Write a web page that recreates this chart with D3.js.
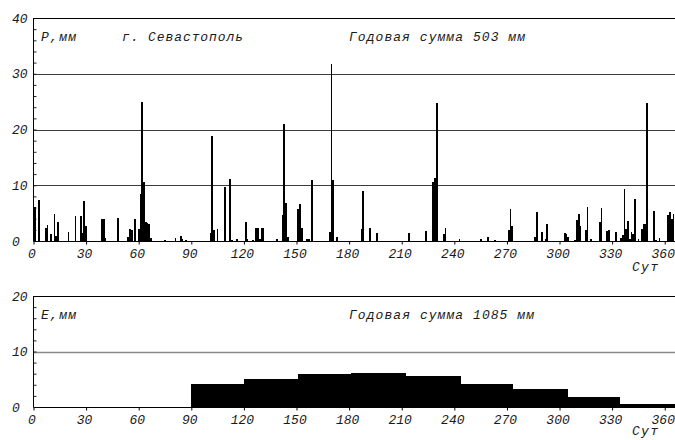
<!DOCTYPE html>
<html>
<head>
<meta charset="utf-8">
<script src="https://d3js.org/d3.v7.min.js"></script>
<style>
  body { margin: 0; background: #fff; }
  text { font-family: "Liberation Mono", "DejaVu Sans Mono", monospace; font-style: italic; fill: #1a1a1a; }
</style>
</head>
<body>
<div id="chart"></div>
<script>
// daily precipitation, day of year -> mm
var rainDays = [1, 3, 7, 8, 10, 12, 13, 14, 20, 24, 27, 28, 29, 30,
  39, 40, 41, 48, 54, 55, 56, 58, 60, 61, 62, 63, 64, 65, 66, 67,
  75, 81, 84, 85, 87,
  101, 102, 103, 105, 109, 112, 113, 116, 121, 122, 125, 127, 128, 129, 130, 131,
  139, 142, 143, 144, 145, 151, 152, 153, 156, 157, 159, 169, 170, 171, 173,
  187, 188, 192, 196, 214, 224, 228, 229, 230, 234, 235,
  243, 255, 259, 263, 271, 272, 273, 286, 287, 290, 292, 293,
  303, 304, 305, 309, 310, 311, 312, 315, 316, 318, 323, 324, 327, 328, 332,
  335, 336, 337, 338, 339, 340, 341, 342, 343, 345, 347, 348, 349, 350,
  354, 355, 357, 362, 363, 364, 365];
var rainMm = [6.1, 7.4, 2.4, 2.9, 1.2, 4.9, 0.9, 3.4, 1.7, 4.4, 4.4, 1.4, 7.2, 2.7,
  4.0, 4.0, 0.6, 4.2, 0.7, 2.2, 1.9, 4.0, 2.1, 8.4, 24.9, 10.5, 3.4, 3.3, 3.1, 0.5,
  0.2, 0.5, 0.9, 0.3, 0.2,
  1.5, 18.9, 2.0, 2.2, 9.7, 11.2, 0.2, 0.4, 3.4, 0.3, 0.2, 2.4, 2.4, 0.4, 2.3, 2.3,
  0.4, 4.7, 21.0, 6.8, 0.7, 5.7, 6.7, 2.4, 0.4, 0.3, 10.9, 1.7, 31.7, 11.0, 0.7,
  2.2, 8.9, 2.4, 1.5, 1.5, 1.8, 10.5, 11.3, 24.7, 1.3, 2.4,
  0.3, 0.3, 0.7, 0.2, 1.9, 5.7, 2.7, 0.7, 5.2, 1.7, 0.4, 3.1,
  1.4, 1.2, 0.7, 0.2, 3.8, 4.8, 2.7, 2.0, 6.1, 0.4, 3.4, 5.9, 1.8, 1.9, 1.7,
  0.5, 1.1, 9.3, 2.2, 3.6, 0.4, 1.7, 1.2, 7.5, 0.4, 2.2, 3.1, 3.1, 24.7,
  5.4, 0.1, 0.5, 4.6, 5.2, 4.0, 4.9];

// monthly evaporation, mm per day
var monthStart = [0, 31, 59, 90, 120, 151, 181, 212, 243, 273, 304, 334];
var monthEnd = [31, 59, 90, 120, 151, 181, 212, 243, 273, 304, 334, 365];
var evapMm = [0, 0, 0, 4.1, 5.0, 5.9, 6.1, 5.6, 4.1, 3.3, 1.8, 0.5];

var dayTicks = [0, 30, 60, 90, 120, 150, 180, 210, 240, 270, 300, 330, 360];
var rainTicks = [0, 10, 20, 30, 40];
var evapTicks = [0, 10, 20];

var W = 675, H = 440;
var svg = d3.select("#chart").append("svg")
  .attr("width", W)
  .attr("height", H);

var x = d3.scaleLinear().domain([0, 365]).range([33.5, 673.5]);
var yTop = d3.scaleLinear().domain([0, 40]).range([241, 18]);
var yBot = d3.scaleLinear().domain([0, 20]).range([407, 296]);

function panel(y, ticks, gridColor, gridWidth) {
  var g = svg.append("g");
  var top = y.range()[1], base = y.range()[0];
  var dmax = y.domain()[1];

  // grid lines
  g.selectAll("line.grid")
    .data(ticks.filter(function(t) { return t > 0 && t < dmax; }))
    .enter().append("line")
    .attr("x1", x(0)).attr("x2", W)
    .attr("y1", function(d) { return Math.round(y(d)) + 0.5; })
    .attr("y2", function(d) { return Math.round(y(d)) + 0.5; })
    .attr("stroke", gridColor)
    .attr("stroke-width", gridWidth);

  // minor ticks on left axis, inside
  g.append("g")
    .attr("transform", "translate(" + x(0) + ",0)")
    .call(d3.axisRight(y).tickValues(d3.range(0, dmax + 1, 2)).tickSize(3).tickFormat(""))
    .call(function(a) { a.select(".domain").remove(); })
    .selectAll("line").attr("stroke", "#222");

  // frame: top line, left axis, baseline
  g.append("line").attr("x1", x(0)).attr("x2", W).attr("y1", top + 0.5).attr("y2", top + 0.5).attr("stroke", "#000");
  g.append("line").attr("x1", x(0)).attr("x2", x(0)).attr("y1", top).attr("y2", base).attr("stroke", "#000");

  // x axis
  var ax = g.append("g")
    .attr("transform", "translate(0," + (base + 0.5) + ")")
    .call(d3.axisBottom(x).tickValues(dayTicks).tickSize(3));
  ax.select(".domain").attr("d", "M" + x(0) + ",0H" + W).attr("stroke", "#000");
  ax.selectAll("line").attr("stroke", "#000");
  ax.selectAll("text")
    .attr("y", 16.5).attr("dy", 0).attr("x", -2)
    .style("font-size", "13px")
    .style("font-family", "Liberation Mono")
    .style("font-style", "italic")
    .attr("fill", "#1a1a1a");

  // y labels, left aligned
  g.selectAll("text.ylab")
    .data(ticks)
    .enter().append("text")
    .attr("x", 12)
    .attr("y", function(d) { return y(d) + 4.5; })
    .style("font-size", "13px")
    .text(function(d) { return d; });
  return g;
}

var gTop = panel(yTop, rainTicks, "#3c3c3c", 1);
var gBot = panel(yBot, evapTicks, "#8a8a8a", 1.6);

// rain bars
var rain = rainDays.map(function(d, i) { return {day: d, mm: rainMm[i]}; });
gTop.append("g").selectAll("rect")
  .data(rain)
  .enter().append("rect")
  .attr("x", function(d) { return x(d.day - 0.5); })
  .attr("width", function(d) { return x(d.day + 0.5) - x(d.day - 0.5); })
  .attr("y", function(d) { return yTop(d.mm); })
  .attr("height", function(d) { return yTop(0) - yTop(d.mm); })
  .attr("fill", "#000")
  .attr("shape-rendering", "crispEdges");

// evaporation steps
var evap = monthStart.map(function(s, i) { return {s: s, e: monthEnd[i], mm: evapMm[i]}; })
  .filter(function(d) { return d.mm > 0; });
gBot.append("g").selectAll("rect")
  .data(evap)
  .enter().append("rect")
  .attr("x", function(d) { return x(d.s); })
  .attr("width", function(d) { return x(d.e) - x(d.s) + 1; })
  .attr("y", function(d) { return yBot(d.mm); })
  .attr("height", function(d) { return yBot(0) - yBot(d.mm); })
  .attr("fill", "#000")
  .attr("shape-rendering", "crispEdges");

// labels
function label(txt, xp, yp, len) {
  svg.append("text")
    .attr("x", xp).attr("y", yp)
    .attr("textLength", len)
    .attr("lengthAdjust", "spacing")
    .style("font-size", "13px")
    .text(txt);
}
label("Р,мм", 41, 41, 35);
label("г. Севастополь", 122, 41, 121);
label("Годовая сумма 503 мм", 349, 41, 176);
label("Сут", 632, 271, 26);
label("Е,мм", 41, 319, 35);
label("Годовая сумма 1085 мм", 349, 319, 185);
label("Сут", 632, 435, 26);
</script>
</body>
</html>
